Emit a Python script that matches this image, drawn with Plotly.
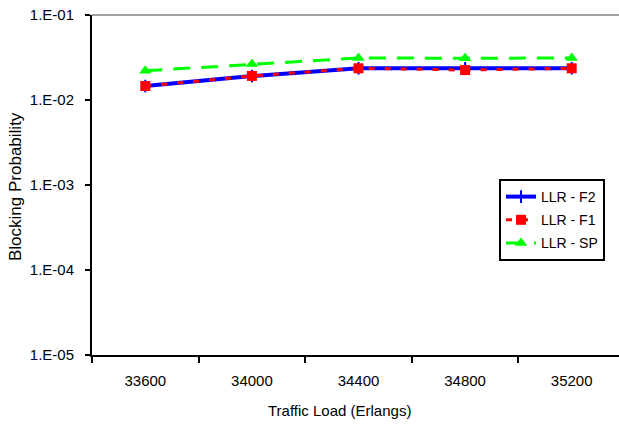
import plotly.graph_objects as go

categories = ["33600", "34000", "34400", "34800", "35200"]
llr_f2 = [0.0146, 0.0191, 0.0236, 0.0236, 0.0236]
llr_f1 = [0.0146, 0.0192, 0.0236, 0.0225, 0.0236]
llr_sp = [0.0221, 0.0265, 0.0312, 0.0310, 0.0312]
y_tickvals = [1e-5, 1e-4, 1e-3, 1e-2, 1e-1]
y_ticktext = ["1.E-05", "1.E-04", "1.E-03", "1.E-02", "1.E-01"]

W, H = 619, 425
L, R, T, B = 92, 0, 15, 70

fig = go.Figure()
fig.add_trace(go.Scatter(
    x=categories, y=llr_f2, name="LLR - F2", mode="lines+markers", legendgroup="a",
    line=dict(color="#0000ff", width=4),
    marker=dict(symbol="line-ns-open", size=9, color="#0000ff",
                line=dict(color="#0000ff", width=2)),
))
fig.add_trace(go.Scatter(
    x=categories, y=llr_f1, name="LLR - F1", mode="lines+markers", legendgroup="b",
    line=dict(color="#ff0000", width=3, dash="6px,10px"),
    marker=dict(symbol="square", size=10, color="#ff0000"),
))
fig.add_trace(go.Scatter(
    x=categories, y=llr_sp, name="LLR - SP", mode="lines+markers", legendgroup="c",
    line=dict(color="#00ff00", width=3, dash="17px,11px"),
    marker=dict(symbol="triangle-up", size=11, color="#00ff00"),
))

font_fam = "Liberation Sans, Arial, sans-serif"
plot_w = W - L - R
plot_h = H - T - B

fig.update_layout(
    width=W, height=H,
    margin=dict(l=L, r=R, t=T, b=B, pad=0),
    paper_bgcolor="white", plot_bgcolor="white",
    font=dict(family=font_fam, size=14, color="black"),
    showlegend=True,
    legend=dict(
        x=(499 - L) / plot_w, y=(H - B - 179) / plot_h,
        xanchor="left", yanchor="top",
        bgcolor="white", bordercolor="black", borderwidth=2,
        font=dict(family=font_fam, size=14, color="black"),
        itemwidth=30, tracegroupgap=2,
    ),
    xaxis=dict(
        type="category", range=[-0.5, -0.5 + plot_w / 106.6],
        showline=True, linecolor="black", linewidth=2,
        ticks="outside", tickson="boundaries", ticklen=6, tickwidth=2,
        tickcolor="black", showgrid=False, zeroline=False,
        ticklabelstandoff=11,
        tickfont=dict(family=font_fam, size=15, color="black"),
    ),
    yaxis=dict(
        type="log", range=[-5, -1],
        tickvals=y_tickvals, ticktext=y_ticktext,
        showline=True, linecolor="black", linewidth=2,
        ticks="outside", ticklen=5, tickwidth=2, tickcolor="black",
        showgrid=False, zeroline=False,
        ticklabelstandoff=8,
        tickfont=dict(family=font_fam, size=15, color="black"),
    ),
    shapes=[dict(type="line", xref="paper", yref="paper", x0=0, x1=1, y0=1, y1=1,
                 line=dict(color="#a0a0a0", width=2))],
    annotations=[
        dict(text="Traffic Load (Erlangs)", xref="paper", yref="paper",
             x=(339 - L) / plot_w, y=(H - B - 410) / plot_h,
             xanchor="center", yanchor="middle", showarrow=False,
             font=dict(family=font_fam, size=15, color="black")),
        dict(text="Blocking Probability", xref="paper", yref="paper",
             x=(15 - L) / plot_w, y=(H - B - 187) / plot_h,
             xanchor="center", yanchor="middle", textangle=-90, showarrow=False,
             font=dict(family=font_fam, size=17, color="black")),
    ],
)

fig.write_html("out.html")
